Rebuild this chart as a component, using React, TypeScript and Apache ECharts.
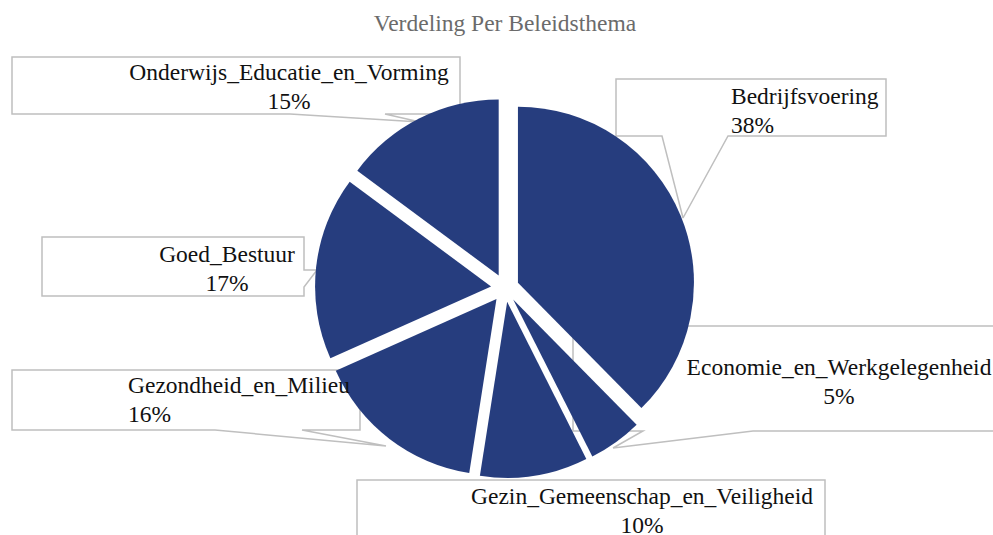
import React, { useEffect, useRef } from 'react';
import * as echarts from 'echarts';

const chartTitle = 'Verdeling Per Beleidsthema';
const categories = [
  'Bedrijfsvoering',
  'Economie_en_Werkgelegenheid',
  'Gezin_Gemeenschap_en_Veiligheid',
  'Gezondheid_en_Milieu',
  'Goed_Bestuur',
  'Onderwijs_Educatie_en_Vorming',
];
const shares = [38, 5, 10, 16, 17, 15];

const BLUE = '#263D7E';
const FONT = 'Liberation Serif';
const PIE_CENTER = [505, 288];
const PIE_RADIUS = 176;

// Label callout layout (box edges, text anchor, pointer)
const labelBoxes: any[] = [
  { left: 616, top: 79, width: 270, height: 57, align: 'left', textX: 731, textY: 81, pointer: { side: 'bottom', a: 662, b: 728, tip: [683, 218] } },
  { left: 573, top: 326, width: 440, height: 105, align: 'center', textX: 839, textY: 352, pointer: { side: 'bottom', a: 643, b: 753, tip: [613, 448] } },
  { left: 357, top: 480, width: 468, height: 70, align: 'center', textX: 642, textY: 481, pointer: null },
  { left: 12, top: 370, width: 348, height: 60, align: 'left', textX: 128, textY: 370, pointer: { side: 'bottom', a: 215, b: 302, tip: [386, 446] } },
  { left: 42, top: 237, width: 262, height: 59, align: 'center', textX: 227, textY: 239, pointer: { side: 'right', a: 270, b: 287, tip: [317, 270] } },
  { left: 12, top: 57, width: 448, height: 57, align: 'center', textX: 289, textY: 57, pointer: { side: 'bottom', a: 290, b: 385, tip: [420, 122] } },
];

function outline(b: any): number[][] {
  const L = b.left, T = b.top, R = b.left + b.width, B = b.top + b.height;
  const p = b.pointer;
  if (!p) return [[L, B], [L, T], [R, T], [R, B]];
  if (p.side === 'bottom') {
    return [p.tip, [p.b, B], [R, B], [R, T], [L, T], [L, B], [p.a, B], p.tip];
  }
  return [p.tip, [R, p.a], [R, T], [L, T], [L, B], [R, B], [R, p.b], p.tip];
}

export default function App() {
  const ref = useRef<HTMLDivElement>(null);
  useEffect(() => {
    if (!ref.current) return;
    const chart = echarts.init(ref.current, undefined, { renderer: 'svg' });
    const sliceData = categories.map((name, i) => ({ name, value: shares[i], selected: true }));
    const labelData = categories.map((name, i) => ({ name, value: shares[i] }));
    chart.setOption({
      animation: false,
      backgroundColor: '#ffffff',
      title: {
        text: chartTitle,
        left: 500,
        top: 6,
        textAlign: 'center',
        textStyle: { fontFamily: FONT, fontSize: 23.5, fontWeight: 'normal', color: '#6B6B6B' },
      },
      series: [
        {
          type: 'pie',
          center: PIE_CENTER,
          radius: PIE_RADIUS,
          startAngle: 90,
          clockwise: true,
          selectedMode: 'multiple',
          selectedOffset: 14,
          data: sliceData,
          itemStyle: { color: BLUE },
          select: { itemStyle: { color: BLUE } },
          emphasis: { disabled: true },
          label: { show: false },
          labelLine: { show: false },
          silent: true,
        },
        {
          type: 'pie',
          center: PIE_CENTER,
          radius: PIE_RADIUS,
          startAngle: 90,
          clockwise: true,
          silent: true,
          avoidLabelOverlap: false,
          data: labelData,
          itemStyle: { color: 'rgba(0,0,0,0)' },
          emphasis: { disabled: true },
          label: {
            show: true,
            position: 'outside',
            formatter: '{b}\n{c}%',
            fontFamily: FONT,
            fontSize: 23.5,
            lineHeight: 29,
            color: '#111111',
          },
          labelLine: { show: true, lineStyle: { color: '#BFBFBF', width: 1.5 } },
          labelLayout: (params: any) => {
            const b = labelBoxes[params.dataIndex];
            return {
              x: b.textX,
              y: b.textY,
              align: b.align,
              verticalAlign: 'top',
              labelLinePoints: outline(b),
            };
          },
        },
      ],
    });
    return () => chart.dispose();
  }, []);
  return (
    <div
      ref={ref}
      style={{ position: 'fixed', left: 0, top: 0, width: 993, height: 535, background: '#fff' }}
    />
  );
}
